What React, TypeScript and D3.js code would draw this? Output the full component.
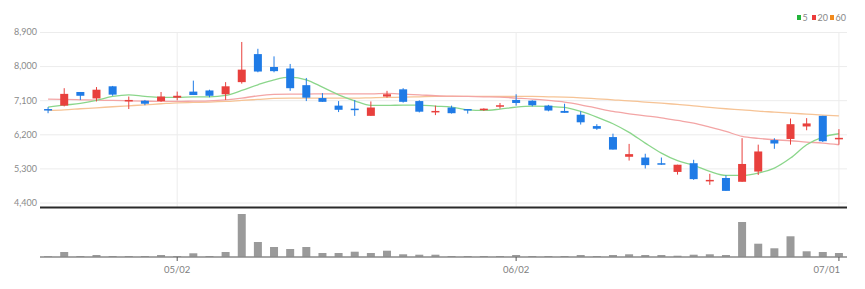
import React from "react";
import * as d3 from "d3";

const dates = [
  "04/20","04/21","04/22","04/25","04/26","04/27","04/28","04/29",
  "05/02","05/03","05/04","05/06","05/09","05/10","05/11","05/12","05/13",
  "05/16","05/17","05/18","05/19","05/20","05/23","05/24","05/25","05/26","05/27","05/30","05/31",
  "06/02","06/03","06/07","06/08","06/09","06/10","06/13","06/14","06/15","06/16","06/17",
  "06/20","06/21","06/22","06/23","06/24","06/27","06/28","06/29","06/30",
  "07/01",
];
const openP = [6880,6970,7330,7160,7480,7090,7100,7090,7180,7340,7370,7270,7590,8330,7990,7950,7510,7170,6970,6890,6700,7210,7400,7090,6800,6920,6880,6850,6950,7120,7100,6970,6830,6730,6430,6140,5620,5600,5450,5220,5450,4980,5060,4960,5230,6060,6090,6420,6700,6080];
const highP = [6930,7430,7330,7460,7490,7210,7120,7330,7340,7630,7390,7590,8650,8470,8270,8070,7700,7300,7090,7120,7080,7360,7430,7110,6970,6970,6880,6900,7040,7270,7110,6990,7020,6820,6480,6230,5960,5700,5600,5410,5540,5170,5130,6110,5940,6110,6630,6640,6700,6350];
const lowP = [6770,6950,7120,7080,7230,6880,6980,7070,7110,7250,7190,7120,7550,7850,7850,7360,7090,7070,6800,6700,6700,7180,7050,6790,6720,6760,6760,6830,6890,6970,6950,6820,6780,6470,6330,5810,5520,5310,5410,5150,5010,4880,4720,4960,5140,5830,5940,6320,6010,5940];
const closeP = [6840,7280,7230,7390,7260,7120,7020,7210,7230,7250,7230,7480,7920,7870,7880,7430,7180,7070,6860,6860,6920,7270,7070,6810,6830,6770,6850,6890,6980,7040,6980,6840,6780,6530,6360,5810,5690,5400,5410,5410,5030,5010,4720,5430,5760,5970,6480,6500,6030,6120];
const volume = [19,120,24,48,24,24,24,48,24,89,24,120,1032,360,240,192,240,96,96,127,96,151,65,55,55,24,24,24,24,48,24,24,24,48,24,48,65,48,48,31,55,65,48,840,319,209,497,137,120,96];
const ma5 = [6931,6984,7027,7107,7212,7256,7212,7186,7186,7203,7203,7238,7370,7520,7652,7722,7652,7458,7256,7098,6975,6975,6984,6984,6957,6931,6860,6843,6878,6931,6957,6948,6922,6816,6667,6491,6263,5981,5718,5516,5393,5234,5129,5129,5190,5322,5586,5937,6140,6228];
const ma20 = [7142,7133,7124,7115,7107,7098,7089,7080,7080,7089,7098,7124,7168,7230,7265,7274,7274,7282,7282,7282,7282,7291,7274,7256,7230,7221,7212,7203,7194,7168,7142,7107,7063,6992,6904,6816,6755,6702,6649,6579,6509,6403,6289,6157,6105,6069,6043,6008,5981,5937];
const ma60 = [6843,6860,6887,6913,6940,6966,6992,7019,7045,7054,7063,7080,7107,7133,7159,7168,7168,7168,7168,7168,7177,7186,7194,7203,7212,7212,7212,7212,7212,7212,7212,7203,7194,7177,7150,7124,7098,7063,7036,7001,6966,6922,6887,6860,6825,6799,6772,6746,6720,6702];
const priceTicks = [4400,5300,6200,7100,8000,8900];
const dateTicks = ["05/02","06/02","07/01"];
const maNames = ["5","20","60"];

const W = 865, H = 289;
const L = 40, R = 847;
const UP = "#e8403d", DOWN = "#1f7be6";
const maLine = ["#8bd68b", "#f3a5a5", "#f6c395"];
const maLegend = ["#22b43a", "#ec3b3b", "#f28a1c"];
const FONT = "Lato, 'Noto Sans', sans-serif";

export default function App() {
  const x = d3.scalePoint<string>().domain(dates).range([L, R]).padding(0.5);
  const y = d3.scaleLinear().domain([4400, 8900]).range([203, 32.5]);
  const yv = d3.scaleLinear().domain([0, 1080]).range([257, 212]);
  const bw = 8;
  const mkLine = (arr: number[]) =>
    d3.line<number>().x((_, i) => x(dates[i]) as number).y((d) => y(d)).curve(d3.curveMonotoneX)(arr) || "";
  const mas = [ma5, ma20, ma60];

  return (
    <svg width={W} height={H} style={{ position: "absolute", left: 0, top: 0, background: "#fff" }} fontFamily={FONT}>
      {priceTicks.map((t) => (
        <g key={t}>
          <line x1={L} x2={R} y1={y(t)} y2={y(t)} stroke="#ececec" strokeWidth={1} />
          <text x={37} y={y(t)} dy="0.32em" textAnchor="end" fontSize={9} fill="#8a8a8a">
            {d3.format(",")(t)}
          </text>
        </g>
      ))}
      {dateTicks.map((d) => (
        <line key={d} x1={x(d)} x2={x(d)} y1={32.5} y2={207} stroke="#ececec" strokeWidth={1} />
      ))}
      {mas.slice().reverse().map((m, k) => (
        <path key={k} d={mkLine(m)} fill="none" stroke={maLine[2 - k]} strokeWidth={1.3} />
      ))}
      {dates.map((d, i) => {
        const cx = x(d) as number;
        const up = closeP[i] >= openP[i];
        const c = up ? UP : DOWN;
        const top = y(Math.max(openP[i], closeP[i]));
        const bot = y(Math.min(openP[i], closeP[i]));
        const h = Math.max(bot - top, 1.5);
        return (
          <g key={d}>
            <line x1={cx} x2={cx} y1={y(highP[i])} y2={y(lowP[i])} stroke={c} strokeWidth={1} />
            <rect x={cx - bw / 2} y={top} width={bw} height={h} fill={c} />
          </g>
        );
      })}
      <line x1={L} x2={R} y1={207.5} y2={207.5} stroke="#2a2a2a" strokeWidth={2} />
      {dates.map((d, i) => {
        const cx = x(d) as number;
        const top = yv(volume[i]);
        return <rect key={d} x={cx - bw / 2} y={top} width={bw} height={257 - top} fill="#9a9a9a" />;
      })}
      <line x1={L} x2={R} y1={257} y2={257} stroke="#8a8a8a" strokeWidth={1.5} />
      {dateTicks.map((d, k) => {
        const last = k === dateTicks.length - 1;
        const px = x(d) as number;
        return (
          <g key={d}>
            <line x1={px} x2={px} y1={257} y2={261} stroke="#555" strokeWidth={1} />
            <text x={last ? px + 1 : px} y={270} dy="0.32em" textAnchor={last ? "end" : "middle"} fontSize={9.5} fill="#808080">
              {d}
            </text>
          </g>
        );
      })}
      {maNames.map((n, k) => {
        const xs = [797, 812, 830][k];
        return (
          <g key={n}>
            <rect x={xs} y={15} width={4} height={5} fill={maLegend[k]} />
            <text x={xs + 5.5} y={17.5} dy="0.35em" fontSize={9} fill="#888">
              {n}
            </text>
          </g>
        );
      })}
    </svg>
  );
}
